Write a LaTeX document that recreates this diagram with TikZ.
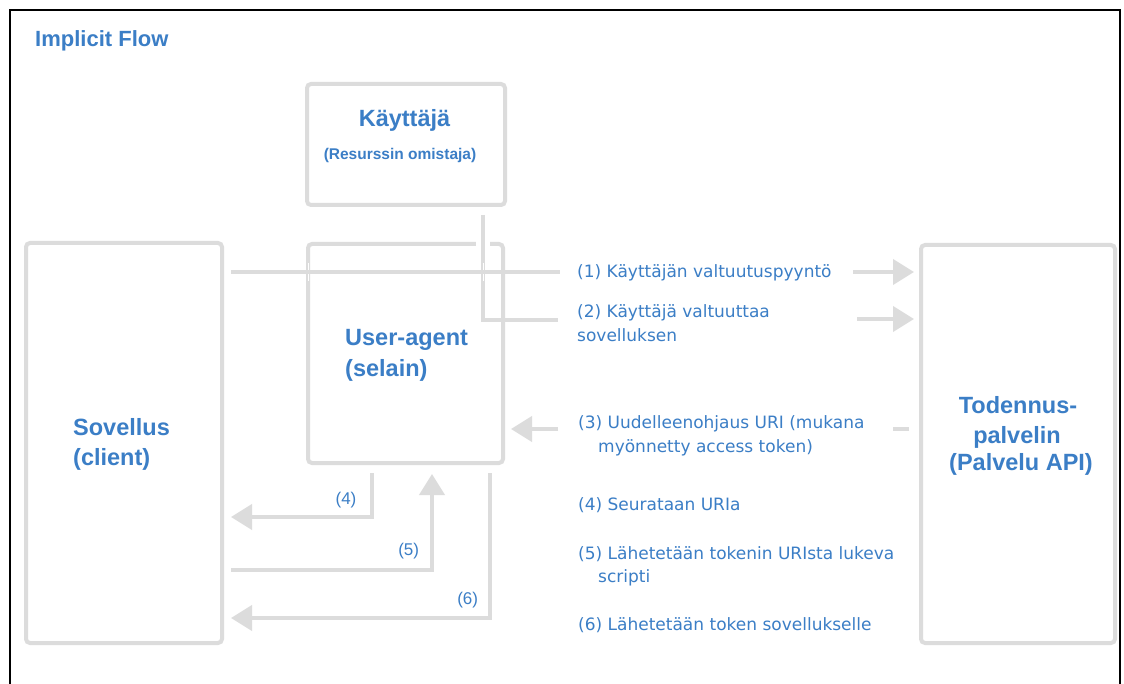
\documentclass[tikz,border=0pt]{standalone}
\usepackage{fontspec}
\setmainfont{Liberation Sans}
\newfontfamily\thinfont{DejaVu Sans}
\usetikzlibrary{arrows.meta,calc}
\definecolor{ink}{HTML}{3B7EC6}
\definecolor{rule}{HTML}{DCDCDC}
\begin{document}
\begin{tikzpicture}[x=1pt,y=-1pt,
  box/.style={draw=rule, line width=4pt, rounded corners=4pt, inner sep=0pt, outer sep=0pt, fill=white},
  wire/.style={draw=rule, line width=4pt},
  arr/.style={wire, -{Triangle[length=21pt,width=25pt]}},
  gapline/.style={draw=white, line width=14pt},
  crossgap/.style={draw=white, line width=18pt},
  head/.style={font=\bfseries\fontsize{23.5}{28}\selectfont, text=ink, inner sep=0pt, anchor=base},
  sub/.style={font=\bfseries\fontsize{15.5}{18}\selectfont, text=ink, inner sep=0pt, anchor=base},
  num/.style={font=\fontsize{17}{20}\selectfont, text=ink, inner sep=0pt, anchor=base},
  lbl/.style={font=\thinfont\fontsize{17}{20}\selectfont, text=ink, inner sep=0pt, anchor=base west}]

% canvas and outer frame (open at the bottom)
\useasboundingbox (0,0) rectangle (1124,684);
\fill[white] (0,0) rectangle (1124,684);
\draw[black, line width=2pt] (10,690) -- (10,10) -- (1120,10) -- (1120,690);

\node[font=\bfseries\fontsize{22}{26}\selectfont, text=ink, inner sep=0pt, anchor=base west] (title) at (35,47) {Implicit Flow};

% boxes
\node[box, minimum width=198pt, minimum height=121pt] (kay) at (406,144.5) {};
\node[box, minimum width=195pt, minimum height=219pt] (ua)  at (405.5,353.5) {};
\node[box, minimum width=196pt, minimum height=400pt] (sov) at (124,443) {};
\node[box, minimum width=194pt, minimum height=398pt] (tod) at (1018,444) {};

% box texts
\node[head] (kayT) at (404.5,127) {Käyttäjä};
\node[sub]  (kayS) at (400,160) {(Resurssin omistaja)};
\node[head, anchor=base west] (uaT) at (345,345) {User-agent};
\node[head, anchor=base west] (uaS) at (345,377) {(selain)};
\node[head, anchor=base west] (sovT) at (73,435) {Sovellus};
\node[head, anchor=base west] (sovS) at (73,465) {(client)};
\node[head] (todT) at (1018,413) {Todennus-};
\node[head] (todU) at (1017,443) {palvelin};
\node[head] (todS) at (1021,470) {(Palvelu API)};

% free ends of the connectors
\coordinate (k0) at (483,217);
\coordinate (k1) at (483,320);
\coordinate (s1) at (233,272);
\coordinate (e1) at (560,272);
\coordinate (e2) at (558,320);
\coordinate (b1) at (853,272);
\coordinate (b2) at (857,319);
\coordinate (r3) at (909,429);
\coordinate (q3) at (893,429);
\coordinate (e3) at (558,429);
\coordinate (u4) at (372,473);
\coordinate (c4) at (372,517);
\coordinate (u5) at (432,474);
\coordinate (c5) at (432,570);
\coordinate (u6) at (490,473);
\coordinate (c6) at (490,618);

% (2): from the user down through the user-agent
\draw[gapline] (483,236) -- (483,249);
\draw[wire] ($(kay.south -| k0)+(0,10)$) -- (k1) -- (e2);
% (1): request line, passing over the user-agent box
\draw[crossgap] ($(ua.west |- s1)+(-0.5,0)$) -- ($(ua.west |- s1)+(0.5,0)$);
\draw[crossgap] ($(k0 |- s1)+(-0.5,0)$) -- ($(k0 |- s1)+(0.5,0)$);
\draw[wire] ($(sov.east |- s1)+(9,0)$) -- (e1);
\draw[arr] (b1) -- ($(tod.west |- b1)+(-7,0)$);
\draw[arr] (b2) -- ($(tod.west |- b2)+(-7,0)$);
% (3): redirect back to the user-agent
\draw[wire] (r3) -- (q3);
\draw[arr] (e3) -- ($(ua.east |- e3)+(8,0)$);
% (4)-(6): between user-agent and client
\draw[arr] (u4) -- (c4) -- ($(sov.east |- c4)+(9,0)$);
\draw[arr] ($(sov.east |- c5)+(9,0)$) -- (c5) -- (u5);
\draw[arr] (u6) -- (c6) -- ($(sov.east |- c6)+(9,0)$);

\node[num] (n4) at (346,504) {(4)};
\node[num] (n5) at (408.7,555) {(5)};
\node[num] (n6) at (467.7,604) {(6)};

% step descriptions
\node[lbl] (l1)  at (577,278) {(1) Käyttäjän valtuutuspyyntö};
\node[lbl] (l2)  at (577,318) {(2) Käyttäjä valtuuttaa};
\node[lbl] (l2b) at (577,342) {sovelluksen};
\node[lbl] (l3)  at (578,428) {(3) Uudelleenohjaus URI (mukana};
\node[lbl] (l3b) at (598,452) {myönnetty access token)};
\node[lbl] (l4)  at (578,510) {(4) Seurataan URIa};
\node[lbl] (l5)  at (578,559) {(5) Lähetetään tokenin URIsta lukeva};
\node[lbl] (l5b) at (598,582) {scripti};
\node[lbl] (l6)  at (578,630) {(6) Lähetetään token sovellukselle};
\end{tikzpicture}
\end{document}
